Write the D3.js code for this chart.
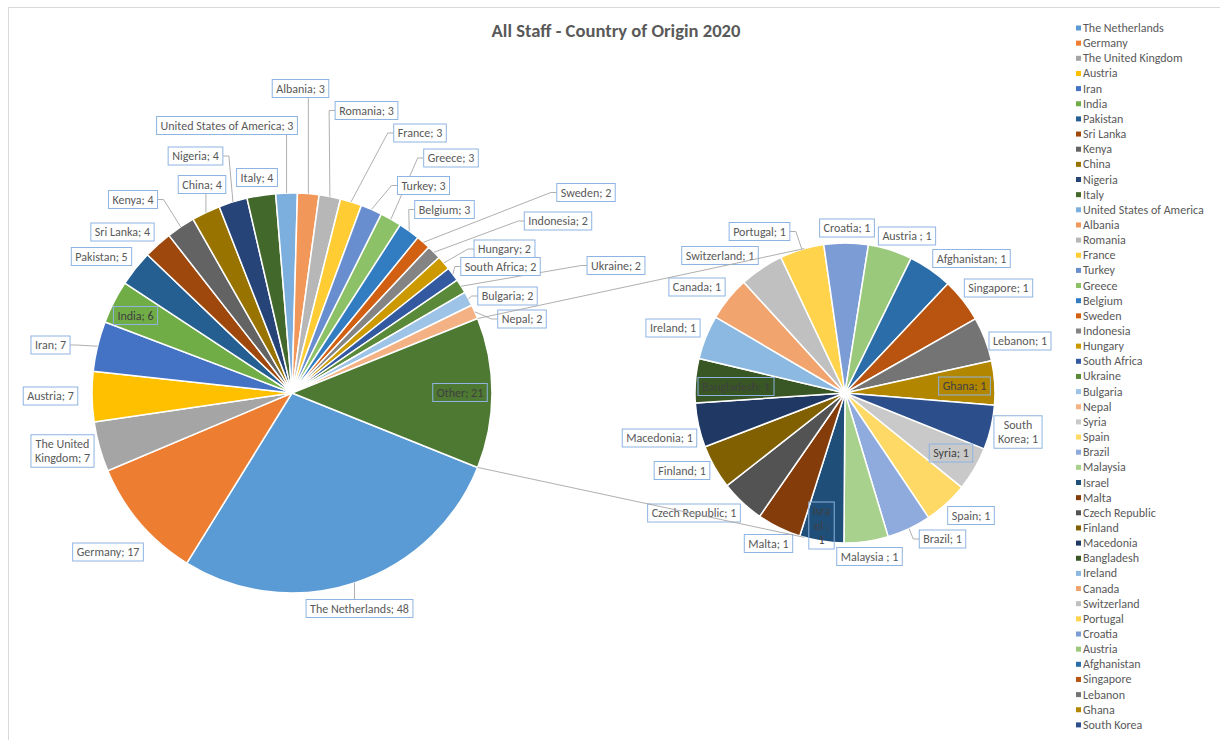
<!DOCTYPE html>
<html><head><meta charset="utf-8">
<script src="https://cdn.jsdelivr.net/npm/d3@7"></script>
<style>
body{margin:0;background:#fff}
svg text{font-family:Carlito,Calibri,Lato,"Open Sans",sans-serif}
</style>
</head><body>
<svg id="c" width="1220" height="740"></svg>
<script>
// ---------------- DATA ----------------
const chartTitle = "All Staff - Country of Origin 2020";
const mainCountries = ["The Netherlands","Germany","The United Kingdom","Austria","Iran","India","Pakistan","Sri Lanka","Kenya","China","Nigeria","Italy","United States of America","Albania","Romania","France","Turkey","Greece","Belgium","Sweden","Indonesia","Hungary","South Africa","Ukraine","Bulgaria","Nepal"];
const mainValues = [48,17,7,7,7,6,5,4,4,4,4,4,3,3,3,3,3,3,3,2,2,2,2,2,2,2];
const otherName = "Other";
const secondCountries = ["Syria","Spain","Brazil","Malaysia ","Israel ","Malta","Czech Republic","Finland","Macedonia","Bangladesh","Ireland","Canada","Switzerland","Portugal","Croatia","Austria ","Afghanistan","Singapore","Lebanon","Ghana","South Korea"];
const secondValues = [1,1,1,1,1,1,1,1,1,1,1,1,1,1,1,1,1,1,1,1,1];

// ---------------- LAYOUT / STYLE ----------------
const C1 = {x:292, y:393}, R1 = 200;
const C2 = {x:845, y:393}, R2 = 150;
const accents = ["#5B9BD5","#ED7D31","#A5A5A5","#FFC000","#4472C4","#70AD47"];
const lumVariants = [[1,0],[0.6,0],[0.8,0.2],[0.8,0],[0.6,0.4],[0.5,0],[0.7,0.3],[0.7,0]];
function paletteColor(i){
  const c = d3.hsl(accents[i % 6]);
  const v = lumVariants[Math.floor(i/6) % lumVariants.length];
  c.l = c.l * v[0] + v[1];
  return c.formatHex();
}
// label box centres, relative to their pie's centre (hand-placed like Excel best-fit)
const mainLabelOffset = [[67.5,215.5],[-184,159],[-229.5,58],[-241.5,3],[-241.5,-48],[-156.5,-77.5],[-190.5,-136.5],[-169.5,-161],[-159,-193.5],[-90,-208.5],[-96.5,-237],[-35,-215.5],[-65,-267.5],[8.5,-304.5],[74.5,-282.5],[128,-260],[131.5,-207.5],[159,-235],[152.5,-183.5],[294,-200.5],[266,-172],[212.5,-144],[208.5,-126.5],[324,-127.5],[215.5,-97],[230,-74],[168,-0.5]];
const secondLabelOffset = [[106,60],[126,122.5],[97.5,146],[24.5,163.5],[-23.5,132.5],[-76.5,150.5],[-151,120],[-163,77.5],[-185.5,45],[-109,-6.5],[-172,-65],[-148,-106],[-125,-137.5],[-85.5,-161.5],[2,-165],[62,-157],[126.5,-134.5],[153.5,-105],[175,-52],[119.5,-7],[173,39]];
const labelLines = {"The United Kingdom":["The United","Kingdom; 7"],"South Korea":["South","Korea; 1"],"Israel ":["Isra","el ;","1"]};
const leaderNames = new Set(["The Netherlands","Iran","Kenya","China","Nigeria","United States of America","Albania","Romania","France","Turkey","Greece","Belgium","Sweden","Indonesia","Hungary","South Africa","Ukraine","Bulgaria","Nepal","Portugal","Brazil"]);

const textGrey = "#595959", innerText = "#404040", boxStroke = "#8DB4E2", lineGrey = "#A6A6A6";
const fontSize = 12, lineH = 14.5, padX = 4;

// ---------------- BUILD ----------------
const svg = d3.select("#c");
svg.append("rect").attr("x",8.5).attr("y",7.5).attr("width",1400).attr("height",1000)
  .attr("fill","none").attr("stroke","#D9D9D9");

svg.append("text").attr("x",616).attr("y",30).attr("text-anchor","middle")
  .attr("dominant-baseline","central").attr("font-size",18.6).attr("font-weight","bold")
  .attr("fill",textGrey).text(chartTitle);

const otherValue = d3.sum(secondValues);
const total = d3.sum(mainValues) + otherValue;
const startMain = Math.PI/2 + Math.PI * otherValue / total;

const mainData = mainCountries.map((n,i)=>({name:n, value:mainValues[i], ci:i, off:mainLabelOffset[i]}));
mainData.push({name:otherName, value:otherValue, ci:mainCountries.length + secondCountries.length, off:mainLabelOffset[mainCountries.length]});
const secondData = secondCountries.map((n,i)=>({name:n, value:secondValues[i], ci:mainCountries.length + i, off:secondLabelOffset[i]}));

const mainArcs = d3.pie().sort(null).value(d=>d.value).startAngle(startMain).endAngle(startMain + 2*Math.PI)(mainData);
const secondArcs = d3.pie().sort(null).value(d=>d.value).startAngle(startMain).endAngle(startMain + 2*Math.PI)(secondData);

function drawPie(arcs, C, R){
  const g = svg.append("g").attr("transform",`translate(${C.x},${C.y})`);
  g.selectAll("path").data(arcs).join("path")
    .attr("d", d3.arc().innerRadius(0).outerRadius(R))
    .attr("fill", d=>paletteColor(d.data.ci))
    .attr("stroke","#fff").attr("stroke-width",1.5).attr("stroke-linejoin","round");
}
drawPie(mainArcs, C1, R1);
drawPie(secondArcs, C2, R2);

const leaderLayer = svg.append("g");
const labelLayer = svg.append("g");

function polar(C, r, a){ return [C.x + r*Math.sin(a), C.y - r*Math.cos(a)]; }

function drawLabels(arcs, C, R){
  arcs.forEach(a=>{
    const d = a.data;
    const lines = labelLines[d.name] || [`${d.name}; ${d.value}`];
    const cx = C.x + d.off[0], cy = C.y + d.off[1];
    const inside = Math.hypot(d.off[0], d.off[1]) < R;
    const g = labelLayer.append("g");
    const rect = g.append("rect");
    const n = lines.length;
    let w = 0;
    lines.forEach((t,k)=>{
      const tx = g.append("text").attr("x",cx).attr("y",cy + (k-(n-1)/2)*lineH)
        .attr("text-anchor","middle").attr("dominant-baseline","central")
        .attr("font-size",fontSize).attr("fill", inside ? innerText : textGrey)
        .style("white-space","pre").text(t);
      w = Math.max(w, tx.node().getComputedTextLength());
    });
    const bw = w + 2*padX, bh = n*lineH + 3.5;
    const box = {x0:cx-bw/2, x1:cx+bw/2, y0:cy-bh/2, y1:cy+bh/2, cy:cy};
    rect.attr("x",box.x0).attr("y",box.y0).attr("width",bw).attr("height",bh)
      .attr("fill", inside ? "none" : "#fff").attr("stroke",boxStroke).attr("stroke-width",1);
    if (leaderNames.has(d.name)){
      const mid = (a.startAngle + a.endAngle)/2;
      const p = polar(C, R, mid);
      let pts;
      if (p[0] >= box.x0 && p[0] <= box.x1) pts = [p, [p[0], p[1] < box.y0 ? box.y0 : box.y1]];
      else if (p[0] < box.x0) pts = [p, [box.x0-6, box.cy], [box.x0, box.cy]];
      else pts = [p, [box.x1+6, box.cy], [box.x1, box.cy]];
      leaderLayer.append("path").attr("d", d3.line()(pts))
        .attr("fill","none").attr("stroke",lineGrey).attr("stroke-width",0.9);
    }
  });
}
drawLabels(mainArcs, C1, R1);
drawLabels(secondArcs, C2, R2);

// series lines from the "Other" slice to the second pie
const otherArc = mainArcs[mainArcs.length-1];
const vx = C1.x - C2.x, vy = C1.y - C2.y, dist = Math.hypot(vx, vy);
const th = Math.atan2(vy, vx), ph = Math.acos(R2/dist);
const tA = [C2.x + R2*Math.cos(th+ph), C2.y + R2*Math.sin(th+ph)];
const tB = [C2.x + R2*Math.cos(th-ph), C2.y + R2*Math.sin(th-ph)];
const tUp = tA[1] < tB[1] ? tA : tB, tDown = tA[1] < tB[1] ? tB : tA;
const cUp = polar(C1, R1, otherArc.startAngle), cDown = polar(C1, R1, otherArc.endAngle);
[[cUp,tUp],[cDown,tDown]].forEach(seg=>{
  svg.append("path").attr("d", d3.line()(seg)).attr("fill","none")
    .attr("stroke",lineGrey).attr("stroke-width",0.9);
});

// legend
const legendNames = mainCountries.concat(secondCountries);
const lg = svg.append("g");
legendNames.forEach((n,i)=>{
  const y = 28 + i*15.15;
  lg.append("rect").attr("x",1076).attr("y",y-2.5).attr("width",5).attr("height",5).attr("fill",paletteColor(i));
  lg.append("text").attr("x",1083).attr("y",y).attr("dominant-baseline","central")
    .attr("font-size",12).attr("fill",textGrey).text(n.trim());
});
</script>
</body></html>
